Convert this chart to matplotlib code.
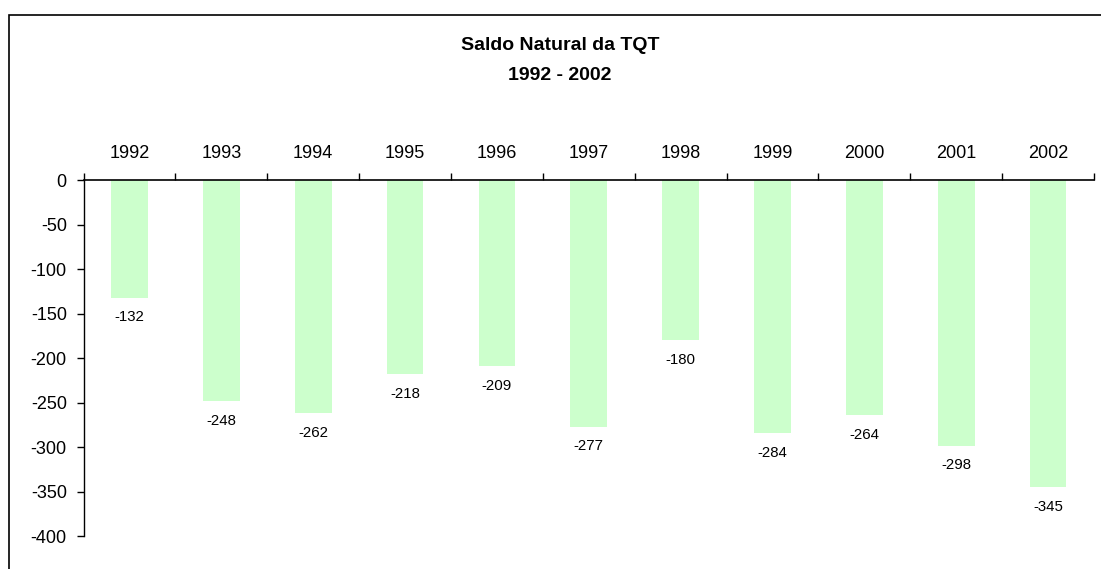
import numpy as np
import matplotlib.pyplot as plt
from matplotlib.patches import Rectangle

plt.rcParams['font.family'] = ['Liberation Sans', 'DejaVu Sans']

# dados
anos = ['1992', '1993', '1994', '1995', '1996', '1997', '1998', '1999', '2000', '2001', '2002']
saldo = [-132, -248, -262, -218, -209, -277, -180, -284, -264, -298, -345]
yticks = [0, -50, -100, -150, -200, -250, -300, -350, -400]

fig = plt.figure(figsize=(11.01, 5.69), dpi=100)
ax = fig.add_axes([83.5 / 1101, 1 - 536.3 / 569, (1094 - 83.5) / 1101, (536.3 - 180.3) / 569])

x = np.arange(len(anos))
bars = ax.bar(x, saldo, width=0.4, color='#CCFFCC', zorder=2)

# rótulos de valor abaixo das barras
for xi, v in zip(x, saldo):
    ax.annotate(str(v), (xi, v), xytext=(0, -9), textcoords='offset points',
                ha='center', va='top', fontsize=10.8, color='black')

ax.set_xlim(-0.5, len(anos) - 0.5)
ax.set_ylim(-400, 0)

# eixo x no topo (linha do zero)
ax.xaxis.tick_top()
ax.set_xticks(np.arange(len(anos) + 1) - 0.5)
ax.set_xticklabels([])
ax.set_xticks(x, minor=True)
ax.set_xticklabels(anos, minor=True, fontsize=13)
ax.tick_params(axis='x', which='major', direction='out', length=5, width=1, top=True)
ax.tick_params(axis='x', which='minor', length=0, pad=13, top=True)

ax.set_yticks(yticks)
ax.set_yticklabels([str(t) for t in yticks], fontsize=13)
ax.tick_params(axis='y', direction='out', length=5, width=1, pad=7)

ax.spines['right'].set_visible(False)
ax.spines['bottom'].set_visible(False)
ax.spines['top'].set_linewidth(1.2)
ax.spines['left'].set_linewidth(1.0)

# título
fig.text(560 / 1101, 1 - 46 / 569, 'Saldo Natural da TQT', ha='center', va='center',
         fontsize=14, fontweight='bold')
fig.text(560 / 1101, 1 - 76 / 569, '1992 - 2002', ha='center', va='center',
         fontsize=14, fontweight='bold')

# moldura do gráfico
fig.add_artist(Rectangle((8.5 / 1101, -0.1), 1.2, 1 - 14.7 / 569 + 0.1, transform=fig.transFigure,
                         fill=False, edgecolor='black', linewidth=1.2))

fig.savefig('out.png', dpi=100)
